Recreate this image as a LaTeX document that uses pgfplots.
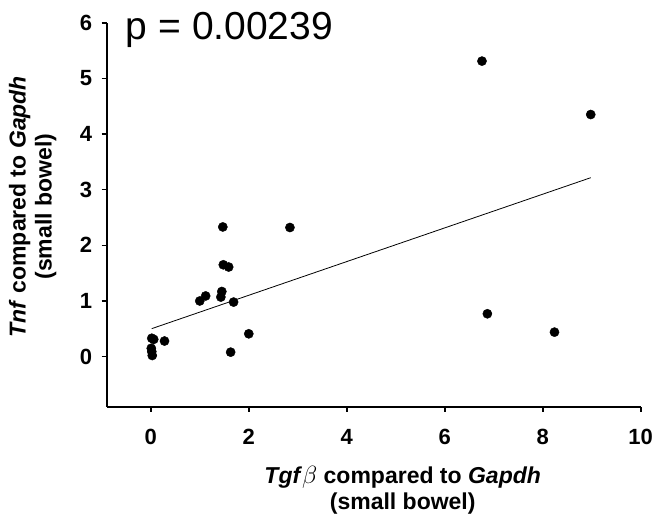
\documentclass[border=0pt]{standalone}
\usepackage{fontspec}
\setmainfont{Liberation Sans}
\usepackage{pgfplots}
\pgfplotsset{compat=1.18}
\begin{document}
\begin{tikzpicture}
\begin{axis}[
  at={(0,0)}, anchor=south west,
  scale only axis, width=534pt, height=384pt,
  xmin=-0.9, xmax=10, ymin=-0.9, ymax=6,
  axis x line*=bottom, axis y line*=left,
  axis line style={line width=1.6pt, black},
  xtick={0,2,4,6,8,10}, ytick={0,1,2,3,4,5,6},
  tick align=outside, major tick length=5pt,
  tick style={line width=1.6pt, black},
  /pgf/number format/assume math mode=true,
  tick label style={font=\fontsize{22}{26}\selectfont\bfseries},
  xticklabel style={yshift=-14pt},
  yticklabel style={xshift=-6pt},
  clip=false,
]
\addplot[only marks, mark=*, mark size=4.6pt, black] table {
x y
0.02 0.33
0.06 0.31
0.28 0.28
0.01 0.15
0.02 0.09
0.03 0.02
1.00 1.00
1.12 1.09
1.43 1.07
1.45 1.17
1.48 1.65
1.59 1.61
1.47 2.33
1.69 0.98
1.63 0.08
2.00 0.41
2.84 2.32
6.76 5.31
8.98 4.35
6.87 0.77
8.24 0.44
};
\addplot[black, line width=0.8pt] table {
x y
0.02 0.503
8.98 3.215
};
\end{axis}
\node[anchor=base west, font=\fontsize{39}{42}\selectfont, inner sep=0pt] at (19pt,366.7pt) {p = 0.00239};
\node[align=center, font=\fontsize{23}{26}\selectfont\bfseries] at (296pt,-84pt) {\textit{Tgf}$\beta$ compared to \textit{Gapdh}\\(small bowel)};
\node[rotate=90, align=center, font=\fontsize{23}{26}\selectfont\bfseries] at (-74pt,200pt) {\textit{Tnf} compared to \textit{Gapdh}\\(small bowel)};
\pgfresetboundingbox
\path[use as bounding box] (-106.7pt,-108.3pt) rectangle (548.3pt,406.7pt);
\end{tikzpicture}
\end{document}
